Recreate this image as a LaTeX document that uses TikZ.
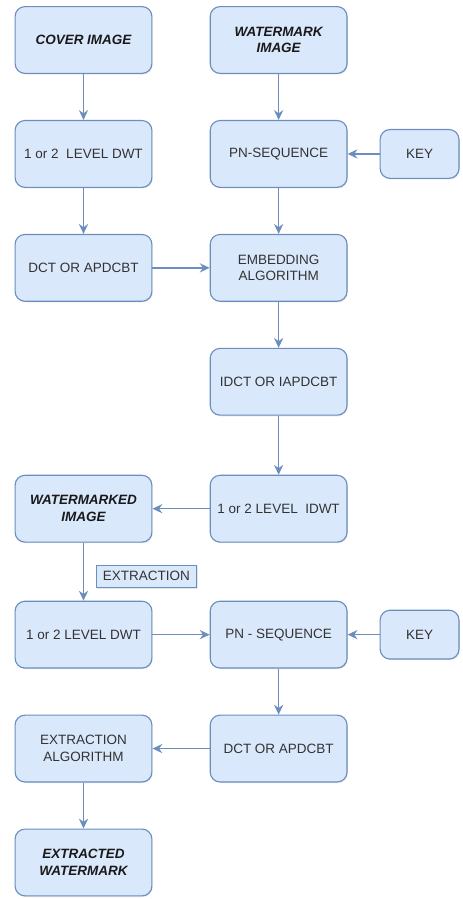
\documentclass[tikz,border=0pt]{standalone}
\usepackage{fontspec}
\setmainfont{Liberation Sans}
\usetikzlibrary{positioning,arrows.meta,shadows}
\definecolor{boxfill}{HTML}{DAE8FC}
\definecolor{boxline}{HTML}{6C8EBF}
\definecolor{boxtext}{HTML}{333333}
\tikzstyle{process} = [rectangle, rounded corners=7pt, minimum width=3.42cm, minimum height=1.67cm, align=center, draw=boxline, line width=0.8pt, fill=boxfill, text=boxtext, font=\fontsize{9.6}{11.8}\selectfont, drop shadow={opacity=0.2, shadow xshift=0.6pt, shadow yshift=-0.8pt}]
\tikzstyle{io} = [process, text=black!90, font=\fontsize{9.6}{11.8}\selectfont\bfseries\itshape]
\tikzstyle{keybox} = [process, minimum width=1.97cm, minimum height=1.22cm]
\tikzstyle{tag} = [rectangle, minimum width=2.52cm, minimum height=0.56cm, inner sep=1pt, draw=boxline, line width=0.8pt, fill=boxfill, text=boxtext, font=\fontsize{9.6}{11.8}\selectfont, drop shadow={opacity=0.2, shadow xshift=0.6pt, shadow yshift=-0.8pt}]
\tikzstyle{arrow} = [line width=1pt, -{Stealth[length=7pt,width=6.5pt]}, draw=boxline]

\begin{document}
\begin{tikzpicture}[node distance=1.15cm]
		\useasboundingbox (0,0) rectangle (11.575,-22.475);

		% embedding
		\node (cover) [io] at (2.0875,-1.0) {COVER IMAGE};
		\node (wmimg) [io, right=1.43cm of cover] {WATERMARK\\IMAGE};
		\node (dwtA) [process, below=of cover] {1 or 2~~LEVEL DWT};
		\node (pnA) [process, below=of wmimg] {PN-SEQUENCE};
		\node (keyA) [keybox, right=0.8cm of pnA] {KEY};
		\node (dctA) [process, below=of dwtA] {DCT OR APDCBT};
		\node (embed) [process, below=of pnA] {EMBEDDING\\ALGORITHM};
		\node (idct) [process, below=of embed] {IDCT OR IAPDCBT};
		\node (idwt) [process, below=1.475cm of idct] {1 or 2 LEVEL~~IDWT};
		\node (marked) [io, left=1.43cm of idwt] {WATERMARKED\\IMAGE};

		% extraction
		\node (dwtB) [process, below=1.45cm of marked] {1 or 2 LEVEL DWT};
		\node (pnB) [process, right=1.43cm of dwtB] {PN - SEQUENCE};
		\node (keyB) [keybox, right=0.8cm of pnB] {KEY};
		\node (dctB) [process, below=of pnB] {DCT OR APDCBT};
		\node (extalg) [process, left=1.43cm of dctB] {EXTRACTION\\ALGORITHM};
		\node (extwm) [io, below=of extalg] {EXTRACTED\\WATERMARK};

		\draw [arrow] (cover) -- (dwtA);
		\draw [arrow] (dwtA) -- (dctA);
		\draw [arrow] (dctA) -- (embed);
		\draw [arrow] (wmimg) -- (pnA);
		\draw [arrow] (keyA) -- (pnA);
		\draw [arrow] (pnA) -- (embed);
		\draw [arrow] (embed) -- (idct);
		\draw [arrow] (idct) -- (idwt);
		\draw [arrow] (idwt) -- (marked);
		\draw [arrow] (marked) -- node[tag, anchor=west, xshift=0.3cm, pos=0.58] (extract) {EXTRACTION} (dwtB);
		\draw [arrow] (dwtB) -- (pnB);
		\draw [arrow] (keyB) -- (pnB);
		\draw [arrow] (pnB) -- (dctB);
		\draw [arrow] (dctB) -- (extalg);
		\draw [arrow] (extalg) -- (extwm);

\end{tikzpicture}
\end{document}
